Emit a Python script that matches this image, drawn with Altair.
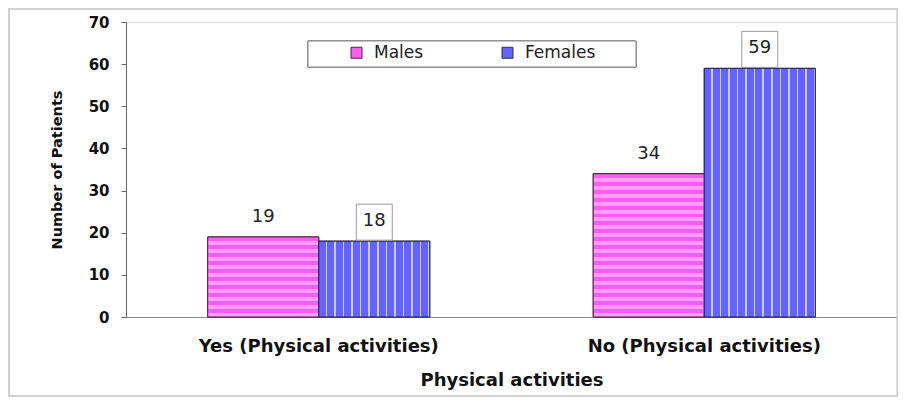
import altair as alt
import pandas as pd

categories = ["Yes (Physical activities)", "No (Physical activities)"]
genders = ["Males", "Females"]
males = [19, 34]
females = [18, 59]

rows = []
for i, c in enumerate(categories):
    rows.append({"category": c, "gender": "Males", "value": males[i]})
    rows.append({"category": c, "gender": "Females", "value": females[i]})
df = pd.DataFrame(rows)

FONT = "DejaVu Sans, Verdana, sans-serif"
W, H = 771, 295
YMAX = 70
PINK = "#FF5CF2"
PINK_LIGHT = "#FF9CFF"
BLUE = "#6464FA"
BLUE_LIGHT = "#C8C8FF"


def h_stripes(n, a, b):
    stops = []
    for i in range(n):
        o0, o1, o2 = i / n, (i + 0.5) / n, (i + 1) / n
        stops += [{"offset": o0, "color": a}, {"offset": o1, "color": a},
                  {"offset": o1, "color": b}, {"offset": o2, "color": b}]
    return {"gradient": "linear", "x1": 0, "y1": 0, "x2": 0, "y2": 1, "stops": stops}


def v_stripes(n, base, line, frac=0.18):
    stops = []
    for i in range(n):
        o0, o1, o2 = i / n, (i + 1 - frac) / n, (i + 1) / n
        stops += [{"offset": o0, "color": base}, {"offset": o1, "color": base},
                  {"offset": o1, "color": line}, {"offset": o2, "color": line}]
    return {"gradient": "linear", "x1": 0, "y1": 0, "x2": 1, "y2": 0, "stops": stops}


x_enc = alt.X("category:N", sort=categories,
              scale=alt.Scale(paddingInner=0.424, paddingOuter=0.212),
              axis=alt.Axis(title="Physical activities", labelAngle=0, ticks=False,
                            labelFont=FONT, labelFontSize=18, labelFontWeight="bold",
                            labelColor="#111", labelPadding=20, labelLimit=0,
                            titleFont=FONT, titleFontSize=18, titleFontWeight="bold",
                            titleColor="#111", titlePadding=16,
                            domainColor="#888"))
xo_enc = alt.XOffset("gender:N", sort=genders,
                     scale=alt.Scale(domain=genders, paddingInner=0, paddingOuter=0))
y_enc = alt.Y("value:Q", scale=alt.Scale(domain=[0, YMAX], nice=False),
              axis=alt.Axis(title="Number of Patients", values=list(range(0, 71, 10)),
                            grid=False, tickSize=5, tickColor="#666", domainColor="#666",
                            labelFont=FONT, labelFontSize=15, labelFontWeight="bold",
                            labelColor="#111", labelPadding=12,
                            titleFont=FONT, titleFontSize=14.5, titleFontWeight="bold",
                            titleColor="#111", titlePadding=24))

base = alt.Chart(df)

frame = base.mark_rect(fill=None, stroke="#cfcfcf", strokeWidth=1.5).encode(
    x=alt.value(-117), x2=alt.value(W + 0.5), y=alt.value(-13), y2=alt.value(H + 79))

legend_box = base.mark_rect(fill="white", stroke="#888", strokeWidth=1).encode(
    x=alt.value(182), x2=alt.value(510), y=alt.value(19), y2=alt.value(45))

bars = base.mark_bar(stroke="#333", strokeWidth=1).encode(
    x=x_enc, xOffset=xo_enc, y=y_enc,
    color=alt.Color("gender:N", sort=genders,
                    scale=alt.Scale(domain=genders, range=[PINK, BLUE]),
                    legend=alt.Legend(title=None, orient="none", legendX=222, legendY=22,
                                      direction="horizontal", symbolType="square",
                                      symbolSize=121, symbolStrokeColor="#333",
                                      symbolStrokeWidth=1, labelFont=FONT,
                                      labelFontSize=17, labelColor="#222",
                                      labelOffset=9, columnPadding=75, padding=0)))

stripe_layers = []
for i, c in enumerate(categories):
    px = males[i] * H / YMAX
    n = max(1, round(px / 8))
    stripe_layers.append(
        base.transform_filter(
            (alt.datum.gender == "Males") & (alt.datum.category == c)
        ).mark_bar(fill=h_stripes(n, PINK, PINK_LIGHT), stroke="#442244", strokeWidth=1)
        .encode(x=x_enc, xOffset=xo_enc, y=y_enc))
stripe_layers.append(
    base.transform_filter(alt.datum.gender == "Females")
    .mark_bar(fill=v_stripes(13, BLUE, BLUE_LIGHT), stroke="#222255", strokeWidth=1)
    .encode(x=x_enc, xOffset=xo_enc, y=y_enc))

boxes = base.transform_filter(alt.datum.gender == "Females").mark_point(
    shape="square", size=1296, filled=True, fill="white", stroke="#999",
    strokeWidth=1, opacity=1, yOffset=-19).encode(x=x_enc, xOffset=xo_enc, y=y_enc)

labels = base.mark_text(dy=-20, baseline="middle", font=FONT, fontSize=18,
                        color="#222").encode(
    x=x_enc, xOffset=xo_enc, y=y_enc, text="value:Q")

chart = alt.layer(frame, legend_box, bars, *stripe_layers, boxes, labels).properties(
    width=W, height=H,
    padding={"left": 118, "top": 14, "right": 1, "bottom": 80},
    autosize=alt.AutoSizeParams(type="none"),
).configure_view(stroke="#999", strokeWidth=1).configure(background="white")

chart.save("out.html", embed_options={"renderer": "svg", "actions": False})
